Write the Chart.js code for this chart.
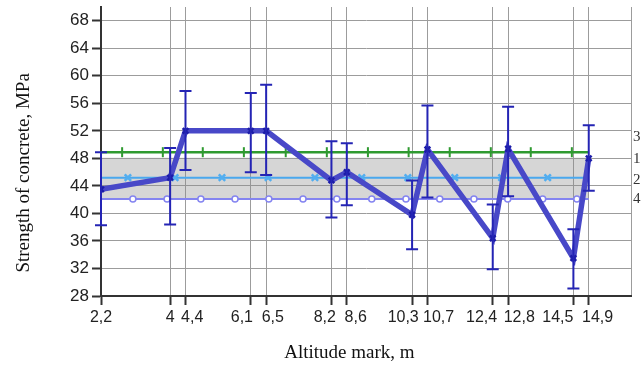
<!DOCTYPE html>
<html><head><meta charset="utf-8">
<script src="https://cdn.jsdelivr.net/npm/chart.js@4.4.0/dist/chart.umd.min.js"></script>
<style>html,body{margin:0;padding:0;background:#fff;}</style>
</head><body>
<canvas id="c" width="642" height="365"></canvas>
<script>
// ---- data ----
const altitudes = [2.2, 4, 4.4, 6.1, 6.5, 8.2, 8.6, 10.3, 10.7, 12.4, 12.8, 14.5, 14.9];
const strength  = [43.5, 45.2, 52.0, 52.0, 52.0, 44.8, 46.0, 39.8, 49.3, 36.4, 49.4, 33.5, 48.0];
const errLow    = [38.3, 38.4, 46.3, 46.0, 45.6, 39.4, 41.2, 34.8, 42.3, 31.9, 42.5, 29.1, 43.3];
const errHigh   = [48.9, 49.5, 57.8, 57.5, 58.7, 50.5, 50.2, 44.8, 55.7, 41.3, 55.5, 37.7, 52.8];

const level1 = 48.0;
const level2 = 45.2;
const level3 = 48.9;
const level4 = 42.1;
const levelStart = 2.2;
const levelEnd = 14.9;

const marks3 = [2.75, 3.81, 4.85, 5.92, 7.01, 8.08, 9.15, 10.21, 11.28, 12.35, 13.39, 14.46];
const marks2 = [2.90, 4.13, 5.35, 6.55, 7.77, 8.99, 10.19, 11.41, 12.63, 13.83];
const marks4 = [3.03, 3.92, 4.80, 5.69, 6.57, 7.46, 8.34, 9.25, 10.14, 11.02, 11.91, 12.79, 13.70, 14.59];

const xTickValues = [2.2, 4, 4.4, 6.1, 6.5, 8.2, 8.6, 10.3, 10.7, 12.4, 12.8, 14.5, 14.9, 16];
const xTickLabels = ['2,2', '4', '4,4', '6,1', '6,5', '8,2', '8,6', '10,3', '10,7', '12,4', '12,8', '14,5', '14,9', ''];
const yTickValues = [28, 32, 36, 40, 44, 48, 52, 56, 60, 64, 68];
const levelNames = ['3', '1', '2', '4'];

// ---- style ----
const xLabelNudge = [0, 0, 6, -8, 6, -6, 9, -9, 11, -12, 12, -16, 9, 0];
const levelLabelOffset = [-15, 1, 2, 0];
const SPACE_W = 4.45;

function nudged(label, n) {
  const k = Math.round(Math.abs(n) * 2 / SPACE_W);
  if (!k) return label;
  return n > 0 ? ' '.repeat(k) + label : label + ' '.repeat(k);
}
function pts(xs, y) { return xs.map(x => ({x, y})); }
function levelLine(y) { return [{x: levelStart, y}, {x: levelEnd, y}]; }

const errorBars = {
  id: 'errorBars',
  afterDatasetsDraw(chart) {
    const {ctx, scales: {x, y}} = chart;
    ctx.save();
    ctx.strokeStyle = '#2424b4';
    ctx.lineWidth = 2;
    altitudes.forEach((a, i) => {
      const px = x.getPixelForValue(a);
      const y1 = y.getPixelForValue(errLow[i]);
      const y2 = y.getPixelForValue(errHigh[i]);
      ctx.beginPath();
      ctx.moveTo(px, y1); ctx.lineTo(px, y2);
      ctx.moveTo(px - 6, y1); ctx.lineTo(px + 6, y1);
      ctx.moveTo(px - 6, y2); ctx.lineTo(px + 6, y2);
      ctx.stroke();
    });
    ctx.restore();
  }
};

const levelLabels = {
  id: 'levelLabels',
  afterDraw(chart) {
    const {ctx, chartArea, scales: {y}} = chart;
    const vals = [level3, level1, level2, level4];
    ctx.save();
    ctx.font = '15px "Liberation Serif"';
    ctx.fillStyle = '#333';
    ctx.textAlign = 'left';
    ctx.textBaseline = 'middle';
    vals.forEach((v, i) => {
      ctx.fillText(levelNames[i], chartArea.right + 2, y.getPixelForValue(v) + levelLabelOffset[i]);
    });
    ctx.restore();
  }
};

new Chart(document.getElementById('c'), {
  type: 'line',
  data: {
    datasets: [
      { // main series
        data: altitudes.map((a, i) => ({x: a, y: strength[i]})),
        borderColor: '#4848c8', borderWidth: 5.5, tension: 0, fill: false,
        pointStyle: 'crossRot', pointRadius: 4, pointBorderWidth: 2.5,
        pointBorderColor: '#1c1ca8', pointBackgroundColor: '#1c1ca8'
      },
      { // level 3 markers
        data: pts(marks3, level3), showLine: false,
        pointStyle: 'line', pointRotation: 90, pointRadius: 5, pointBorderWidth: 2,
        pointBorderColor: '#2f9a30'
      },
      { // level 3 line
        data: levelLine(level3), borderColor: '#2f9a30', borderWidth: 2.5, pointRadius: 0, fill: false
      },
      { // level 2 markers
        data: pts(marks2, level2), showLine: false,
        pointStyle: 'crossRot', pointRadius: 4.5, pointBorderWidth: 2.5,
        pointBorderColor: '#52aef0'
      },
      { // level 2 line
        data: levelLine(level2), borderColor: '#4aa8ee', borderWidth: 2, pointRadius: 0, fill: false
      },
      { // level 4 markers
        data: pts(marks4, level4), showLine: false,
        pointStyle: 'circle', pointRadius: 3, pointBorderWidth: 1.5,
        pointBorderColor: '#8484f0', pointBackgroundColor: '#ffffff'
      },
      { // level 4 line
        data: levelLine(level4), borderColor: '#8484f0', borderWidth: 2, pointRadius: 0, fill: false
      },
      { // level 1 with band down to level 4
        data: levelLine(level1), borderColor: '#999999', borderWidth: 1, pointRadius: 0,
        fill: {value: level4}, backgroundColor: 'rgba(140,140,140,0.36)'
      }
    ]
  },
  options: {
    responsive: false,
    animation: false,
    devicePixelRatio: 1,
    layout: {padding: {left: 0, right: 11, top: 6.5, bottom: 0}},
    plugins: {legend: {display: false}, tooltip: {enabled: false}},
    scales: {
      x: {
        type: 'linear', min: 2.2, max: 16,
        afterBuildTicks: s => { s.ticks = xTickValues.map(v => ({value: v})); },
        afterFit: s => { s.height = 69; s.paddingLeft = 0; s.paddingRight = 0; },
        grid: {
          color: '#9c9c9c', lineWidth: 1, tickLength: 9, tickWidth: 2,
          tickColor: c => (c.tick && c.tick.value === 16) ? 'rgba(0,0,0,0)' : '#333'
        },
        border: {color: '#333', width: 2},
        ticks: {
          autoSkip: false, maxRotation: 0, minRotation: 0, padding: 3,
          font: {family: 'Liberation Sans', size: 16}, color: '#222',
          callback: (v, i) => nudged(xTickLabels[i], xLabelNudge[i])
        },
        title: {
          display: true, text: 'Altitude mark, m' + ' '.repeat(7),
          font: {family: 'Liberation Serif', size: 19}, color: '#111',
          padding: {top: 0, bottom: 1}
        }
      },
      y: {
        type: 'linear', min: 28, max: 70,
        afterBuildTicks: s => { s.ticks = yTickValues.map(v => ({value: v})); },
        afterFit: s => { s.width = 101; s.paddingTop = 0; s.paddingBottom = 0; },
        grid: {color: '#9c9c9c', lineWidth: 1, tickLength: 9, tickWidth: 2, tickColor: '#333'},
        border: {color: '#333', width: 2},
        ticks: {
          padding: 3, font: {family: 'Liberation Sans', size: 17}, color: '#222',
          callback: v => String(v)
        },
        title: {
          display: true, text: 'Strength of concrete, MPa' + ' '.repeat(9),
          font: {family: 'Liberation Serif', size: 19}, color: '#111',
          padding: {top: 12.6, bottom: 0}
        }
      }
    }
  },
  plugins: [errorBars, levelLabels]
});
</script>
</body></html>
